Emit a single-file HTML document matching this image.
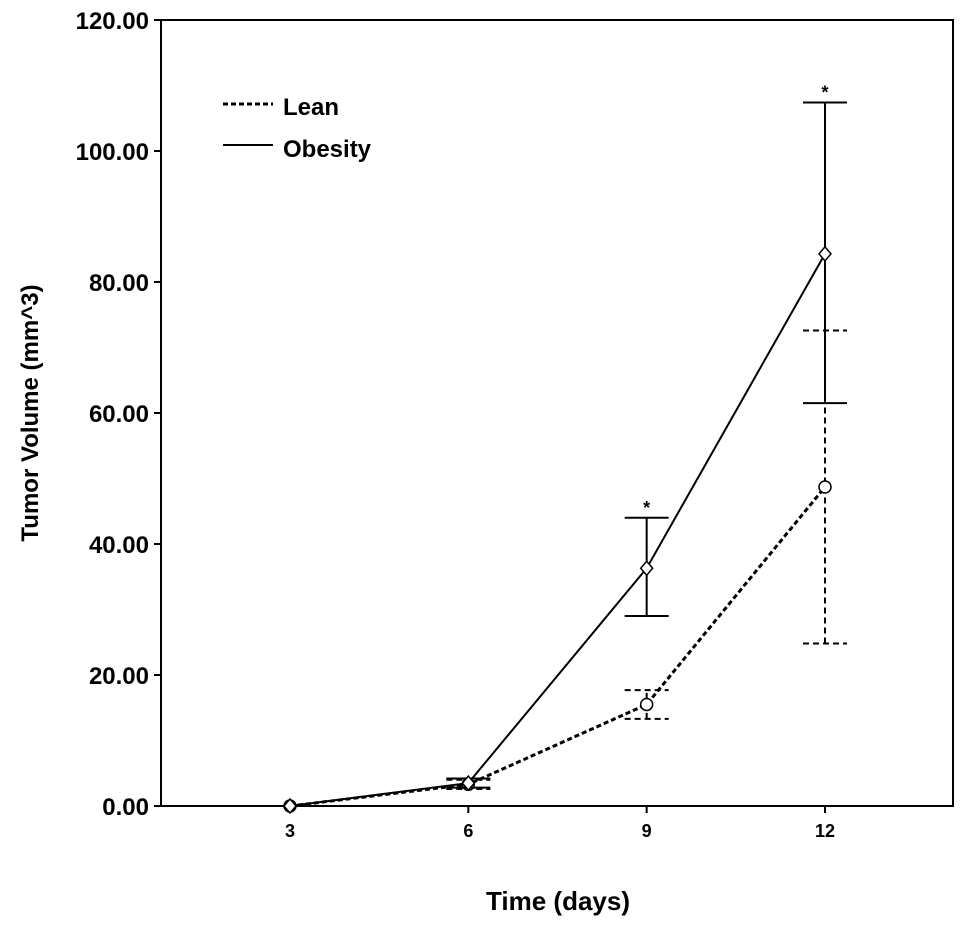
<!DOCTYPE html>
<html><head><meta charset="utf-8"><style>
body{margin:0;background:#fff;}
svg{display:block;font-family:"Liberation Sans",Arial,sans-serif;}
</style></head><body>
<svg id="chart" width="969" height="931">
<rect x="161" y="20" width="792" height="786" fill="none" stroke="#000" stroke-width="2"/>
<g id="yax"></g>
<g id="xax"></g>
<g id="marks"></g>
<text x="38" y="413" transform="rotate(-90 38 413)" text-anchor="middle" font-size="24" font-weight="bold">Tumor Volume (mm^3)</text>
<text x="558" y="910" text-anchor="middle" font-size="26" font-weight="bold">Time (days)</text>
<g>
<line x1="223" y1="104" x2="273" y2="104" stroke="#000" stroke-width="3" stroke-dasharray="5,3"/>
<text x="283" y="115" font-size="24" font-weight="bold">Lean</text>
<line x1="223" y1="145" x2="273" y2="145" stroke="#000" stroke-width="2"/>
<text x="283" y="157" font-size="24" font-weight="bold">Obesity</text>
</g>
</svg>
<script>
const days=[3,6,9,12];
const obesity=[0,3.5,36.3,84.3];
const obesityLo=[0,2.8,29,61.5];
const obesityHi=[0,4.2,44,107.4];
const lean=[0,3.3,15.5,48.7];
const leanLo=[0,2.6,13.3,24.8];
const leanHi=[0,4.0,17.7,72.6];
const yTicks=[0,20,40,60,80,100,120];
const sig=[false,false,true,true];
const NS="http://www.w3.org/2000/svg";
function X(d){return 290+(d-3)*(825-290)/9;}
function Y(v){return 806-v*(786/120);}
function mk(tag,attrs,parent,txt){const e=document.createElementNS(NS,tag);for(const k in attrs)e.setAttribute(k,attrs[k]);if(txt!==undefined)e.textContent=txt;parent.appendChild(e);return e;}
const yax=document.getElementById('yax'),xax=document.getElementById('xax'),m=document.getElementById('marks');
yTicks.forEach(t=>{
 const l=mk('line',{x1:154,x2:161,y1:Y(t),y2:Y(t),stroke:'#000','stroke-width':2},yax);
 
 
 const tx=mk('text',{x:149,y:Y(t)+9,'text-anchor':'end','font-size':24,'font-weight':'bold'},yax,t.toFixed(2));
 
 
});
days.forEach(d=>{
 const l=mk('line',{x1:X(d),x2:X(d),y1:806,y2:813,stroke:'#000','stroke-width':2},xax);
 
 
 const tx=mk('text',{x:X(d),y:837,'text-anchor':'middle','font-size':18,'font-weight':'bold'},xax,String(d));
 
 
});
function series(vals,lo,hi,dash,name,marker){
 const pts=days.map((d,i)=>X(d)+','+Y(vals[i])).join(' ');
 const pl=mk('polyline',{points:pts,fill:'none',stroke:'#000','stroke-width':dash?3:2,'stroke-dasharray':dash?'5,3':'none'},m);
 
 
 days.forEach((d,i)=>{
  if(hi[i]>lo[i]){
   const x=X(d),da=dash?'6,4':'none';
   const g=mk('g',{stroke:'#000','stroke-width':2,'stroke-dasharray':da},m);
   
   
   mk('line',{x1:x,x2:x,y1:Y(lo[i]),y2:Y(hi[i])},g);
   mk('line',{x1:x-22,x2:x+22,y1:Y(lo[i]),y2:Y(lo[i])},g);
   mk('line',{x1:x-22,x2:x+22,y1:Y(hi[i]),y2:Y(hi[i])},g);
  }
  const x=X(d),y=Y(vals[i]);
  let p;
  if(marker==='diamond')p=mk('polygon',{points:`${x},${y-7} ${x+6},${y} ${x},${y+7} ${x-6},${y}`,fill:'#fff',stroke:'#000','stroke-width':1.5},m);
  else p=mk('circle',{cx:x,cy:y,r:6,fill:'#fff',stroke:'#000','stroke-width':1.5},m);
  
  
 });
}
series(lean,leanLo,leanHi,true,'lean','circle');
series(obesity,obesityLo,obesityHi,false,'obesity','diamond');
days.forEach((d,i)=>{if(sig[i]){
 const s=mk('text',{x:X(d),y:Y(obesityHi[i])-4,'text-anchor':'middle','font-size':18,'font-weight':'bold'},m,'*');
 
 
}});
</script>
</body></html>
